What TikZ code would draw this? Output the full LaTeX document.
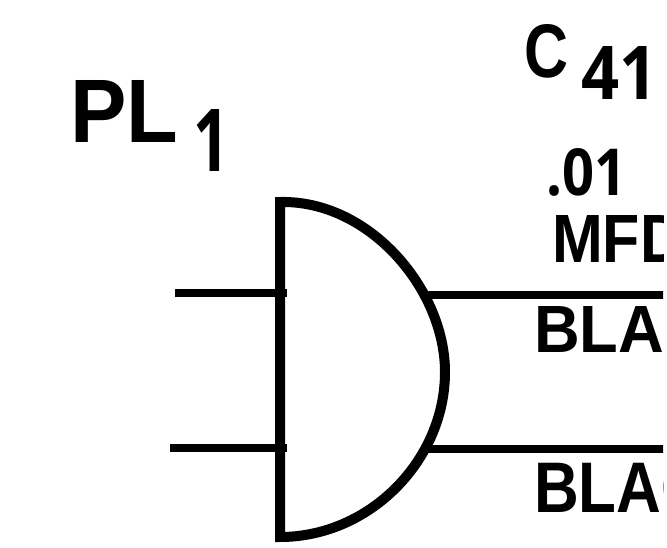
\documentclass[tikz,border=0pt]{standalone}
\usepackage{fontspec}
\usepackage{graphicx}
\setmainfont{Liberation Sans}
\newfontfamily\digitfont{Open Sans}
\newcommand{\fitlabel}[3]{\resizebox{#1pt}{#2pt}{\bfseries #3}}
\tikzset{
 wire/.style={line width=8.5pt,black},
 outline/.style={line width=10pt,black,line join=miter},
 lab/.style={inner sep=0pt,anchor=south west,black},
}
\begin{document}
\begin{tikzpicture}[x=1pt,y=-1pt]
\useasboundingbox (0,0) rectangle (667,547);
\fill[white] (0,0) rectangle (667,547);
\begin{scope}
\clip (0,0) rectangle (663,547);
\coordinate (w1a) at (175,293);
\coordinate (w1b) at (287,293);
\coordinate (w1c) at (428,295);
\coordinate (w1d) at (667,295);
\coordinate (w2a) at (170,448);
\coordinate (w2b) at (287,448);
\coordinate (w2c) at (425,449);
\coordinate (w2d) at (667,449);
\draw[wire] (w1a) -- (w1b);
\draw[wire] (w2a) -- (w2b);
\draw[wire] (w1c) -- (w1d);
\draw[wire] (w2c) -- (w2d);
\draw[outline]
 (280,202) .. controls (370,200) and (445,290) .. (445,372)
 .. controls (445,460) and (370,537) .. (280,537) -- cycle;
\node[lab] (pl) at (70,143) {\fitlabel{108}{62}{PL}};
\node[lab] (sub) at (193,172) {\fitlabel{36}{62}{\digitfont 1}};
\node[lab] (c) at (524,78) {\fitlabel{44}{53}{C}};
\node[lab] (n41) at (581,100) {\fitlabel{76}{53}{\digitfont 41}};
\node[lab] (o1) at (546,197) {\fitlabel{80}{47}{\digitfont .01}};
\node[lab] (mfd) at (552,263) {\fitlabel{132}{47}{MFD}};
\node[lab] (b1) at (534,353) {\fitlabel{130}{46}{BLA}};
\node[lab] (b2) at (534,513) {\fitlabel{172}{50}{BLAC}};
\end{scope}
\end{tikzpicture}
\end{document}
